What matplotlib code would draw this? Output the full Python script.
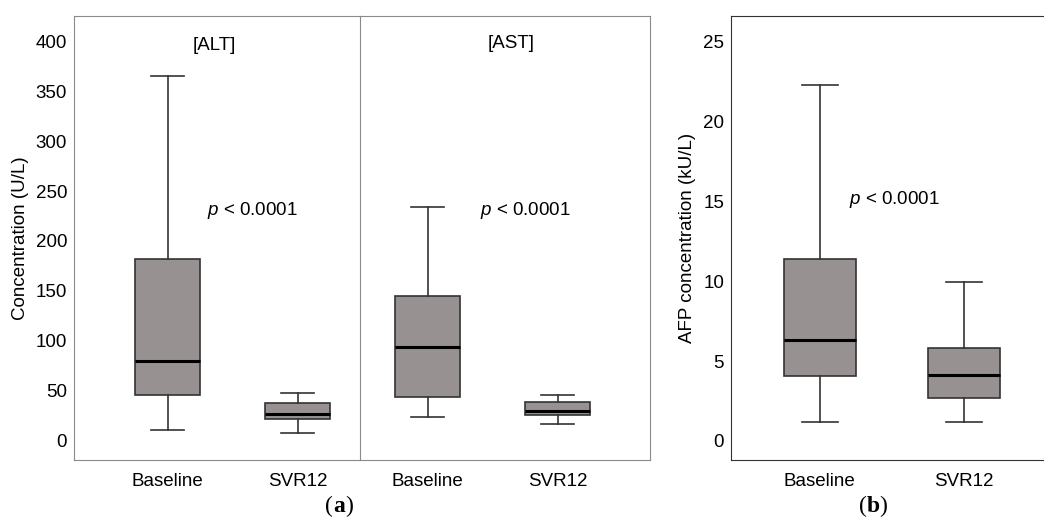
import matplotlib
matplotlib.use("Agg")
import matplotlib.pyplot as plt

plt.rcParams['font.family'] = ['Liberation Sans', 'DejaVu Sans']
plt.rcParams['mathtext.fontset'] = 'custom'
plt.rcParams['mathtext.it'] = 'Liberation Sans:italic'
plt.rcParams['mathtext.rm'] = 'Liberation Sans'

groups = ["Baseline", "SVR12"]

# five-number summaries: low whisker, Q1, median, Q3, high whisker
alt_low = [10, 6.7]
alt_q1 = [45.5, 21.4]
alt_med = [79.4, 25.8]
alt_q3 = [182, 36.9]
alt_high = [366, 47.5]

ast_low = [23.4, 15.8]
ast_q1 = [43.5, 24.8]
ast_med = [93.5, 29.1]
ast_q3 = [145, 37.9]
ast_high = [234.5, 45.2]

afp_low = [1.2, 1.2]
afp_q1 = [4.05, 2.7]
afp_med = [6.3, 4.15]
afp_q3 = [11.4, 5.84]
afp_high = [22.25, 9.95]

p_text = r"$\it{p}$ < 0.0001"

box_fill = "#979191"
edge = "#333333"
fs = 13.5


def make_stats(low, q1, med, q3, high):
    return [dict(whislo=low[i], q1=q1[i], med=med[i], q3=q3[i], whishi=high[i], label=groups[i])
            for i in range(len(groups))]


def draw(ax, stats):
    ax.bxp(stats, positions=[0, 1], widths=0.5, patch_artist=True, showfliers=False,
           boxprops=dict(facecolor=box_fill, edgecolor=edge, linewidth=1.2),
           whiskerprops=dict(color=edge, linewidth=1.2),
           capprops=dict(color=edge, linewidth=1.2),
           capwidths=0.25,
           medianprops=dict(color="black", linewidth=2.2))
    ax.tick_params(length=0, labelsize=fs, pad=5)
    ax.tick_params(axis="x", pad=9)


fig = plt.figure(figsize=(10.44, 5.2), dpi=100)
W, H = 1044, 520

ax1 = fig.add_axes([74 / W, 60 / H, 286 / W, 444 / H])
ax2 = fig.add_axes([360 / W, 60 / H, 290 / W, 444 / H], sharey=ax1)
ax3 = fig.add_axes([731 / W, 60 / H, 312 / W, 444 / H])

draw(ax1, make_stats(alt_low, alt_q1, alt_med, alt_q3, alt_high))
draw(ax2, make_stats(ast_low, ast_q1, ast_med, ast_q3, ast_high))
draw(ax3, make_stats(afp_low, afp_q1, afp_med, afp_q3, afp_high))

ax1.set_xlim(-0.72, 1.48)
ax2.set_xlim(-0.52, 1.71)
ax1.set_ylim(-20, 426)
ax1.set_yticks(range(0, 401, 50))
ax2.tick_params(axis="y", labelleft=False)
ax1.spines["right"].set_visible(False)
for ax in (ax1, ax2):
    for s in ax.spines.values():
        s.set_color("#8a8a8a")

ax3.set_xlim(-0.614, 1.545)
ax3.set_ylim(-1.19, 26.6)
ax3.set_yticks(range(0, 26, 5))
ax3.spines["right"].set_visible(False)
for s in ax3.spines.values():
    s.set_color("#333333")

ax1.set_ylabel("Concentration (U/L)", fontsize=fs, labelpad=5)
ax3.set_ylabel("AFP concentration (kU/L)", fontsize=fs, labelpad=5)

ax1.text(0.36, 396, "[ALT]", ha="center", va="center", fontsize=fs)
ax2.text(0.64, 398, "[AST]", ha="center", va="center", fontsize=fs)
ax1.text(0.3, 231, p_text, ha="left", va="center", fontsize=fs)
ax2.text(0.4, 231, p_text, ha="left", va="center", fontsize=fs)
ax3.text(0.2, 15.1, p_text, ha="left", va="center", fontsize=fs)

for x0, letter in ((333, "a"), (867, "b")):
    fig.text(x0 / W, 1 - 506 / H, "(", fontsize=17, family="Liberation Serif", ha="right", va="center")
    fig.text(x0 / W, 1 - 506 / H, letter, fontsize=17, family="Liberation Serif", weight="bold", ha="left", va="center")
    fig.text((x0 + 12) / W, 1 - 506 / H, ")", fontsize=17, family="Liberation Serif", ha="left", va="center")

fig.savefig("out.png", dpi=100)
